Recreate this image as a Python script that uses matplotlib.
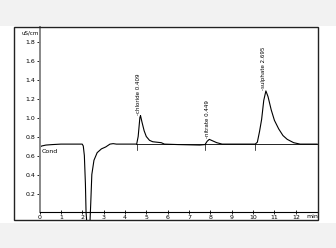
import numpy as np
import matplotlib
matplotlib.use("Agg")
import matplotlib.pyplot as plt
from matplotlib.patches import Rectangle

# -------- Data --------
time = [0, 0.1, 0.3, 0.6, 1.0, 2.0, 2.05, 2.1, 2.15, 2.18, 2.22,
        2.36, 2.4, 2.45, 2.55, 2.7, 2.9, 3.1, 3.3, 3.45, 3.6,
        4.55, 4.62, 4.7, 4.73, 4.8, 4.9, 5.0, 5.15, 5.3, 5.5, 5.7, 5.85,
        6.5, 7.5, 7.75, 7.85, 7.95, 8.1, 8.3, 8.55, 8.7,
        10.1, 10.2, 10.3, 10.4, 10.5, 10.6, 10.7, 10.85, 11.0, 11.2,
        11.4, 11.6, 11.9, 12.2, 13.0]
signal = [0.685, 0.70, 0.71, 0.715, 0.72, 0.72, 0.70, 0.60, 0.30, 0.0, -0.12,
          -0.12, 0.10, 0.40, 0.55, 0.63, 0.67, 0.69, 0.72, 0.725, 0.72,
          0.72, 0.80, 1.00, 1.02, 0.95, 0.86, 0.80, 0.76, 0.745, 0.74, 0.735, 0.72,
          0.715, 0.71, 0.715, 0.75, 0.77, 0.755, 0.735, 0.72, 0.72,
          0.72, 0.74, 0.85, 0.98, 1.18, 1.28, 1.22, 1.08, 0.97, 0.88,
          0.81, 0.77, 0.735, 0.72, 0.72]

peak_names = ["chloride 0.409", "nitrate 0.449", "sulphate 2.695"]
peak_times = [4.72, 7.95, 10.6]
peak_tops = [1.02, 0.77, 1.28]
peak_starts = [4.55, 7.75, 10.1]
baseline = 0.72

x_ticks = list(range(0, 13))
y_ticks = [0.2, 0.4, 0.6, 0.8, 1.0, 1.2, 1.4, 1.6, 1.8]

W, H = 336, 248
fig = plt.figure(figsize=(W / 100, H / 100), dpi=100)
fig.patch.set_facecolor("white")

# grey bands of the screenshot
fig.patches.append(Rectangle((0, 1 - 26 / H), 1, 26 / H, transform=fig.transFigure,
                             facecolor="#f2f2f2", edgecolor="none", zorder=0))
fig.patches.append(Rectangle((0, 0), 1, 25 / H, transform=fig.transFigure,
                             facecolor="#f2f2f2", edgecolor="none", zorder=0))
# black frame
fig.patches.append(Rectangle((14 / W, 1 - 220 / H), (318 - 14) / W, (220 - 27) / H,
                             transform=fig.transFigure, facecolor="none",
                             edgecolor="#222222", lw=1.0, zorder=5))

ax = fig.add_axes([39.5 / W, 1 - 220 / H, (318 - 39.5) / W, (220 - 27) / H])
ax.set_facecolor("none")
ax.set_xlim(0, 13.04)
ax.set_ylim(-0.079, 1.953)

ax.plot(time, signal, color="black", lw=0.8)
ax.plot([4.5, 13.04], [baseline, baseline], color="black", lw=0.6)
for s in peak_starts:
    ax.plot([s, s], [baseline - 0.06, baseline], color="black", lw=0.5)

for name, t, top in zip(peak_names, peak_times, peak_tops):
    ax.text(t - 0.1, top + 0.01, "-" + name, rotation=90, ha="center", va="bottom",
            fontsize=4, color="black")

ax.text(0.08, 0.64, "Cond", fontsize=4.5, ha="left", va="center")

for side in ["top", "right"]:
    ax.spines[side].set_visible(False)
ax.spines["left"].set_color("#888888")
ax.spines["left"].set_linewidth(1.4)
ax.spines["left"].set_bounds(0, 1.953)
ax.spines["bottom"].set_position(("data", 0))
ax.spines["bottom"].set_linewidth(0.8)

ax.set_xticks(x_ticks)
ax.set_xticklabels([str(v) for v in x_ticks])
ax.set_yticks(y_ticks)
ax.set_yticklabels([f"{v:.1f}" for v in y_ticks])
ax.tick_params(axis="x", direction="inout", length=3, width=0.6, labelsize=4.5, pad=0.5)
ax.tick_params(axis="y", direction="out", length=2, width=0.6, labelsize=4.5, pad=1)

ax.text(12.78, -0.02, "min", fontsize=4.5, ha="center", va="top")
fig.text(30 / W, 1 - 33 / H, "uS/cm", fontsize=4, ha="center", va="center")

plt.savefig("out.png", dpi=100)
